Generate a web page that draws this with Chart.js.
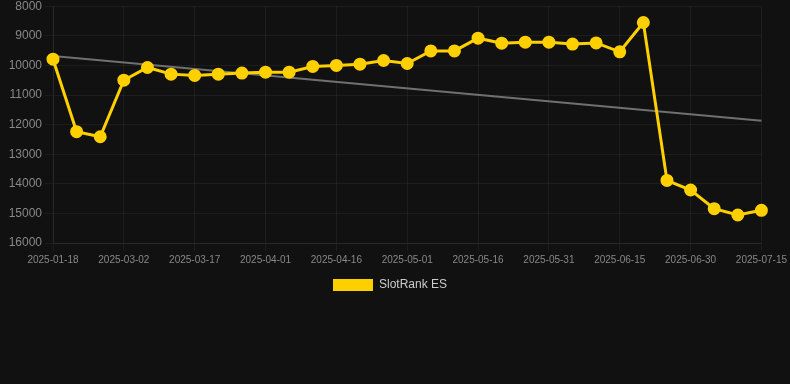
<!DOCTYPE html>
<html>
<head>
<meta charset="utf-8">
<script src="https://cdn.jsdelivr.net/npm/chart.js@4"></script>
<style>
  html, body { margin: 0; padding: 0; background: #111111; overflow: hidden; }
  #wrap { position: relative; width: 790px; height: 305px; margin-top: -4px; }
</style>
</head>
<body>
<div id="wrap"><canvas id="c"></canvas></div>
<script>
const dates = [
  "2025-01-18","2025-02-20","2025-02-25","2025-03-02","2025-03-07","2025-03-12",
  "2025-03-17","2025-03-22","2025-03-27","2025-04-01","2025-04-06","2025-04-11",
  "2025-04-16","2025-04-21","2025-04-26","2025-05-01","2025-05-06","2025-05-11",
  "2025-05-16","2025-05-21","2025-05-26","2025-05-31","2025-06-05","2025-06-10",
  "2025-06-15","2025-06-20","2025-06-25","2025-06-30","2025-07-05","2025-07-10",
  "2025-07-15"
];
const rankValues = [
  9790, 12240, 12410, 10500, 10070, 10295,
  10340, 10295, 10260, 10230, 10230, 10035,
  10000, 9960, 9835, 9935, 9510, 9510,
  9080, 9250, 9215, 9215, 9280, 9240,
  9540, 8550, 13885, 14210, 14840, 15055,
  14895
];
const trendStart = 9680;
const trendEnd = 11870;
const seriesName = "SlotRank ES";

const trendData = dates.map((d, i) => i === 0 ? trendStart : (i === dates.length - 1 ? trendEnd : null));

Chart.defaults.font.family = "'Liberation Sans', Arial, sans-serif";

new Chart(document.getElementById('c'), {
  type: 'line',
  data: {
    labels: dates,
    datasets: [
      {
        label: seriesName,
        data: rankValues,
        borderColor: '#FFD000',
        backgroundColor: '#FFD000',
        borderWidth: 3,
        pointRadius: 5,
        pointHoverRadius: 5,
        pointBackgroundColor: '#FFD000',
        pointBorderColor: '#FFD000',
        tension: 0,
        order: 1
      },
      {
        label: 'trend',
        data: trendData,
        borderColor: '#707070',
        borderWidth: 2,
        pointRadius: 0,
        spanGaps: true,
        fill: false,
        order: 2
      }
    ]
  },
  options: {
    responsive: true,
    maintainAspectRatio: false,
    animation: false,
    layout: { padding: { top: 0, right: 10, left: 0, bottom: 0 } },
    plugins: {
      legend: {
        position: 'bottom',
        labels: {
          color: '#cccccc',
          font: { size: 12 },
          boxWidth: 40,
          boxHeight: 12,
          filter: (item) => item.text !== 'trend',
          generateLabels: (chart) => Chart.defaults.plugins.legend.labels.generateLabels(chart).map(l => Object.assign(l, { lineWidth: 0 }))
        }
      },
      tooltip: { enabled: false }
    },
    scales: {
      x: {
        type: 'category',
        grid: { color: 'rgba(255,255,255,0.05)', tickColor: 'rgba(255,255,255,0.05)' },
        border: { color: 'rgba(255,255,255,0.05)' },
        ticks: {
          color: '#888888',
          font: { size: 10 },
          maxRotation: 0,
          autoSkip: true,
          callback: function(v, i) { return i % 3 === 0 ? this.getLabelForValue(v) : null; }
        }
      },
      y: {
        reverse: true,
        min: 8000,
        max: 16000,
        afterFit: (s) => { s.width = 53; },
        grid: { color: 'rgba(255,255,255,0.05)', tickColor: 'rgba(255,255,255,0.05)' },
        border: { color: 'rgba(255,255,255,0.05)' },
        ticks: {
          color: '#888888',
          font: { size: 12 },
          stepSize: 1000,
          callback: (v) => String(v)
        }
      }
    }
  }
});
</script>
</body>
</html>
